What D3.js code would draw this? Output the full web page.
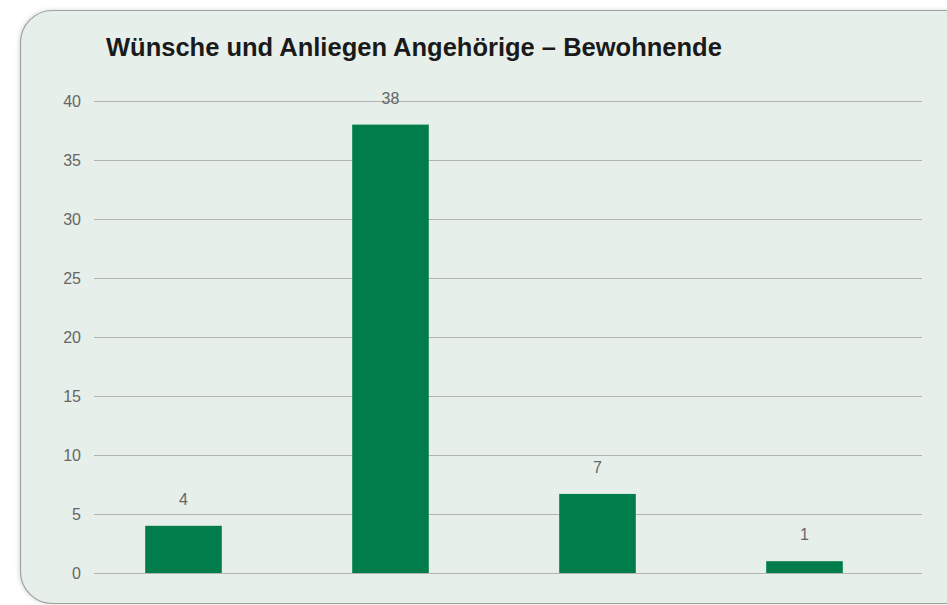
<!DOCTYPE html>
<html>
<head>
<meta charset="utf-8">
<script src="https://cdn.jsdelivr.net/npm/d3@7"></script>
<style>
  html, body { margin: 0; padding: 0; background: #ffffff; }
  svg { display: block; font-family: "Liberation Sans", Arial, sans-serif; }
</style>
</head>
<body>
<svg id="chart" width="947" height="605"></svg>
<script>
const title = "Wünsche und Anliegen Angehörige – Bewohnende";
const categories = ["A", "B", "C", "D"];
const counts = [4, 38, 6.7, 1];
const yTicks = [0, 5, 10, 15, 20, 25, 30, 35, 40];

let svg = d3.select("#chart");

// soft shadow for the panel
let defs = svg.append("defs");
let f = defs.append("filter").attr("id", "shadow").attr("x", "-5%").attr("y", "-5%").attr("width", "110%").attr("height", "110%");
f.append("feDropShadow").attr("dx", -1).attr("dy", 0).attr("stdDeviation", 2).attr("flood-color", "#000").attr("flood-opacity", 0.15);

// panel with rounded corners, runs off the right edge
svg.append("rect")
    .attr("x", 20.5).attr("y", 10.5)
    .attr("width", 960).attr("height", 593)
    .attr("rx", 32).attr("ry", 32)
    .attr("fill", "#e6efea")
    .attr("stroke", "#a0a0a0")
    .attr("stroke-width", 1.2)
    .attr("filter", "url(#shadow)");

svg.append("text")
    .attr("x", 106).attr("y", 56)
    .attr("font-size", 25.5)
    .attr("font-weight", "bold")
    .attr("fill", "#1a1a1a")
    .text(title);

let y = d3.scaleLinear().domain([0, 40]).range([573, 101]);
let x = d3.scaleBand().domain(categories).range([80, 908]).paddingInner(0.63).paddingOuter(0.315);

// gridlines + tick labels
let grid = svg.append("g")
    .attr("transform", "translate(94,0)")
    .call(d3.axisLeft(y).tickValues(yTicks).tickSize(-828).tickPadding(13));
grid.select(".domain").remove();
grid.selectAll(".tick line").attr("stroke", "#b3b3b3").attr("stroke-width", 1.2);
grid.selectAll(".tick text")
    .attr("fill", "#666666")
    .attr("font-size", 16)
    .attr("font-family", "Liberation Sans, Arial, sans-serif");

svg.selectAll("rect.bar")
    .data(counts)
    .enter()
    .append("rect")
    .attr("class", "bar")
    .attr("x", (d, i) => x(categories[i]))
    .attr("width", x.bandwidth())
    .attr("y", d => y(d))
    .attr("height", d => y(0) - y(d))
    .attr("fill", "#007d4a");

svg.selectAll("text.val")
    .data(counts)
    .enter()
    .append("text")
    .attr("class", "val")
    .attr("x", (d, i) => x(categories[i]) + x.bandwidth() / 2)
    .attr("y", d => y(d) - 21)
    .attr("text-anchor", "middle")
    .attr("font-size", 16)
    .attr("fill", "#666666")
    .text(d => d3.format(".0f")(d));
</script>
</body>
</html>
